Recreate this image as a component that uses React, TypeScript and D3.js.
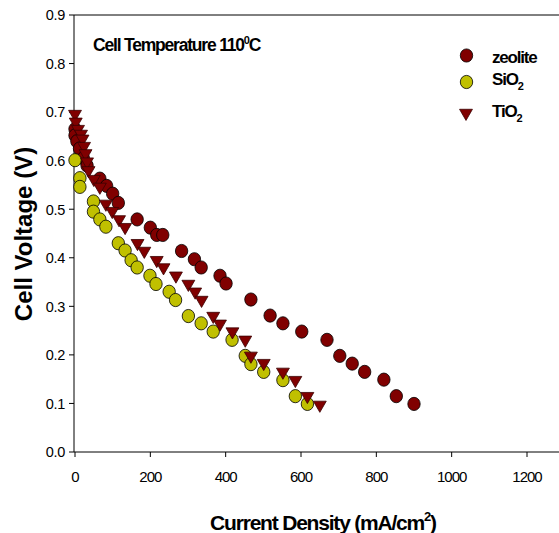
import React from "react";
import * as d3 from "d3";

const zeoliteX = [0, 0, 5, 12, 22, 32, 66, 84, 100, 115, 165, 200, 217, 233, 283, 317, 335, 385, 401, 467, 518, 552, 602, 669, 703, 736, 769, 820, 853, 900];
const zeoliteY = [0.665, 0.652, 0.64, 0.625, 0.605, 0.59, 0.563, 0.548, 0.532, 0.513, 0.479, 0.462, 0.447, 0.447, 0.414, 0.397, 0.38, 0.363, 0.347, 0.314, 0.281, 0.265, 0.248, 0.231, 0.198, 0.182, 0.165, 0.149, 0.115, 0.099];

const sio2X = [0, 13, 13, 49, 49, 66, 82, 115, 133, 149, 165, 199, 215, 250, 267, 301, 335, 367, 417, 452, 467, 501, 552, 585, 617];
const sio2Y = [0.601, 0.564, 0.546, 0.516, 0.495, 0.479, 0.464, 0.43, 0.415, 0.395, 0.38, 0.363, 0.346, 0.33, 0.313, 0.28, 0.265, 0.248, 0.231, 0.198, 0.181, 0.165, 0.148, 0.115, 0.099];

const tio2X = [0, 2, 8, 16, 20, 24, 28, 32, 36, 50, 66, 82, 99, 117, 133, 166, 184, 217, 235, 268, 301, 319, 336, 367, 385, 418, 452, 467, 501, 552, 585, 617, 650];
const tio2Y = [0.696, 0.68, 0.665, 0.655, 0.645, 0.63, 0.615, 0.598, 0.58, 0.562, 0.546, 0.511, 0.496, 0.479, 0.463, 0.43, 0.414, 0.395, 0.38, 0.363, 0.346, 0.33, 0.313, 0.28, 0.264, 0.248, 0.231, 0.198, 0.183, 0.165, 0.148, 0.115, 0.097];

const xTicks = [0, 200, 400, 600, 800, 1000, 1200];
const yTicks = [0, 0.1, 0.2, 0.3, 0.4, 0.5, 0.6, 0.7, 0.8, 0.9];

const W = 559;
const H = 533;
const FONT = "'Liberation Sans', Arial, sans-serif";
const RED = "#800000";
const YEL = "#c0c000";

export default function App() {
  const x = d3.scaleLinear().domain([0, 1200]).range([75, 527]);
  const y = d3.scaleLinear().domain([0, 0.9]).range([452, 15]);
  const x0 = 74;
  const tri = d3.symbol().type(d3.symbolTriangle).size(72)();

  const zeo = zeoliteX.map((v, i) => [v, zeoliteY[i]]);
  const sio = sio2X.map((v, i) => [v, sio2Y[i]]);
  const tio = tio2X.map((v, i) => [v, tio2Y[i]]);

  return (
    <svg width={W} height={H} style={{ position: "absolute", left: 0, top: 0, background: "#fff" }} fontFamily={FONT}>
      <rect width={W} height={H} fill="#fff" />
      {/* axes */}
      <line x1={x0} x2={W} y1={15} y2={15} stroke="#000" strokeWidth={1} />
      <line x1={x0} x2={W} y1={452} y2={452} stroke="#000" strokeWidth={1} />
      <line x1={x0} x2={x0} y1={15} y2={452} stroke="#000" strokeWidth={1} />
      {yTicks.map((t) => (
        <g key={"y" + t}>
          <line x1={x0 - 5} x2={x0} y1={y(t)} y2={y(t)} stroke="#000" />
          <text x={65} y={y(t) + 5.3} fontSize={14.5} textAnchor="end" fill="#000" letterSpacing={-0.3}>
            {t.toFixed(1)}
          </text>
        </g>
      ))}
      {xTicks.map((t) => (
        <g key={"x" + t}>
          <line x1={x(t)} x2={x(t)} y1={452} y2={457} stroke="#000" />
          <text x={x(t)} y={481.5} fontSize={15} textAnchor="middle" fill="#000" letterSpacing={-1}>
            {t}
          </text>
        </g>
      ))}
      {/* data */}
      {zeo.map((d, i) => (
        <ellipse key={"z" + i} cx={x(d[0])} cy={y(d[1])} rx={6.2} ry={6.6} fill={RED} stroke="#000" strokeWidth={0.8} />
      ))}
      {sio.map((d, i) => (
        <ellipse key={"s" + i} cx={x(d[0])} cy={y(d[1])} rx={6.2} ry={6.6} fill={YEL} stroke="#000" strokeWidth={0.8} />
      ))}
      {tio.map((d, i) => (
        <path key={"t" + i} d={tri as string} transform={`translate(${x(d[0])},${y(d[1])}) rotate(180)`} fill={RED} stroke="#3a0000" strokeWidth={0.8} />
      ))}
      {/* title */}
      <text x={93} y={50.5} fontSize={17.5} fontWeight="bold" fill="#000" letterSpacing={-1.2}>
        Cell Temperature 110<tspan dy={-7} fontSize={11}>0</tspan><tspan dy={7}>C</tspan>
      </text>
      {/* legend */}
      <ellipse cx={466.5} cy={55.5} rx={6.2} ry={6.6} fill={RED} stroke="#000" strokeWidth={0.8} />
      <text x={492} y={62.5} fontSize={17} fontWeight="bold" letterSpacing={-1.2}>zeolite</text>
      <ellipse cx={466.5} cy={82} rx={6.2} ry={6.6} fill={YEL} stroke="#000" strokeWidth={0.8} />
      <text x={492} y={85} fontSize={17} fontWeight="bold" letterSpacing={-1.2}>
        SiO<tspan dy={5} fontSize={11}>2</tspan>
      </text>
      <path d={tri as string} transform="translate(466,113) rotate(180)" fill={RED} stroke="#3a0000" strokeWidth={0.8} />
      <text x={492} y={117} fontSize={17} fontWeight="bold" letterSpacing={-1.2}>
        TiO<tspan dy={5} fontSize={11}>2</tspan>
      </text>
      {/* axis titles */}
      <text transform="translate(32,234) rotate(-90)" fontSize={24} fontWeight="bold" textAnchor="middle" fill="#000">
        Cell Voltage (V)
      </text>
      <text x={323} y={530} fontSize={21} fontWeight="bold" textAnchor="middle" fill="#000" letterSpacing={-1.2}>
        Current Density (mA/cm<tspan dy={-9} fontSize={13}>2</tspan><tspan dy={9}>)</tspan>
      </text>
    </svg>
  );
}
